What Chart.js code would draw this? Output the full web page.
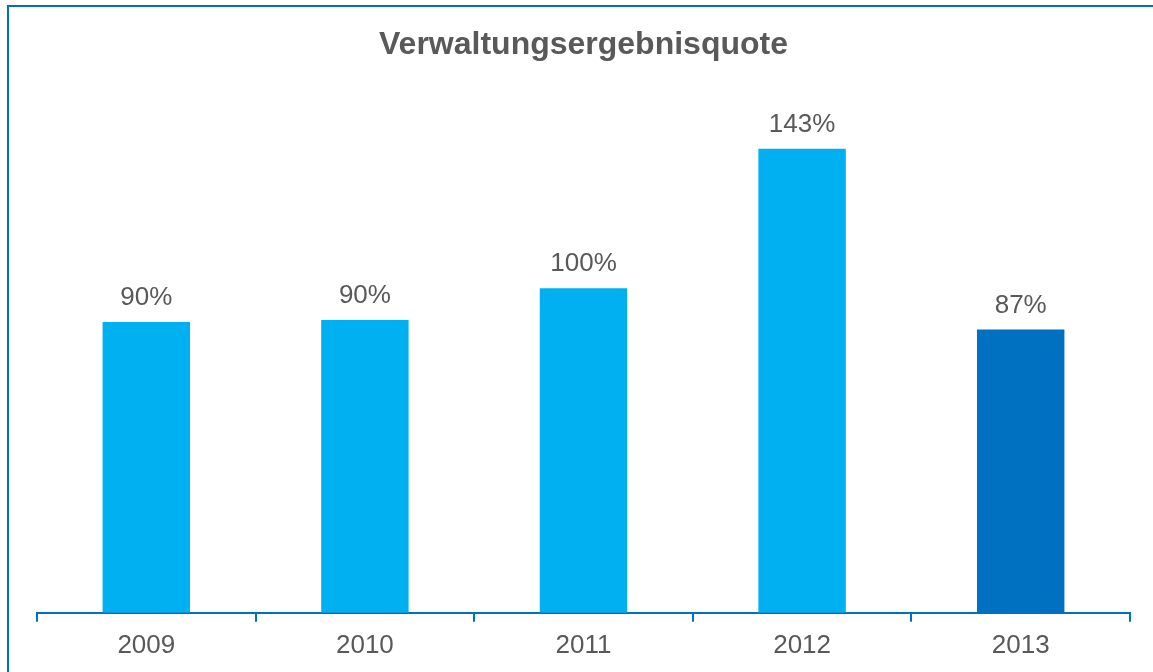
<!DOCTYPE html>
<html>
<head>
<meta charset="utf-8">
<script src="https://cdn.jsdelivr.net/npm/chart.js@4"></script>
<style>
  html, body { margin: 0; padding: 0; background: #fff; }
  #wrap { position: relative; width: 1153px; height: 672px; overflow: hidden; }
  #frame { position: absolute; left: 7px; top: 5px; width: 1200px; height: 700px;
           border-left: 2px solid #0070c0; border-top: 2px solid #0070c0; }
  canvas { position: absolute; left: 0; top: 0; }
</style>
</head>
<body>
<div id="wrap">
  <div id="frame"></div>
  <canvas id="myChart" width="1153" height="672"></canvas>
</div>
<script>
const years = ["2009", "2010", "2011", "2012", "2013"];
const quote = [89.6, 90.2, 100, 143, 87.3];
const labels = ["90%", "90%", "100%", "143%", "87%"];
const barColors = ["#00b0f0", "#00b0f0", "#00b0f0", "#00b0f0", "#0070c0"];

const myChart = document.getElementById("myChart");

// draws the percent labels above each bar
const valueLabels = {
    id: "valueLabels",
    afterDatasetsDraw(chart) {
        const ctx = chart.ctx;
        const meta = chart.getDatasetMeta(0);
        ctx.save();
        ctx.font = "26px 'Liberation Sans', Arial, sans-serif";
        ctx.fillStyle = "#595959";
        ctx.textAlign = "center";
        ctx.textBaseline = "alphabetic";
        meta.data.forEach((bar, i) => {
            ctx.fillText(labels[i], bar.x, bar.y - 17);
        });
        ctx.restore();
    }
};

new Chart(myChart, {
    type: "bar",
    data: {
        labels: years,
        datasets: [{
            data: quote,
            backgroundColor: barColors,
            categoryPercentage: 1,
            barPercentage: 0.4
        }]
    },
    options: {
        responsive: false,
        animation: false,
        layout: { padding: { left: 37, right: 23, top: 0, bottom: 3 } },
        plugins: {
            legend: { display: false },
            tooltip: { enabled: false },
            title: {
                display: true,
                text: "Verwaltungsergebnisquote",
                color: "#595959",
                font: { family: "'Liberation Sans', Arial, sans-serif", size: 32, weight: "bold" },
                padding: { top: 26, bottom: 0 }
            }
        },
        scales: {
            x: {
                offset: true,
                grid: {
                    offset: true,
                    drawOnChartArea: false,
                    drawTicks: true,
                    tickLength: 9,
                    color: "#0070c0",
                    lineWidth: 2
                },
                border: { display: true, color: "#0070c0", width: 2 },
                ticks: {
                    color: "#595959",
                    padding: 8,
                    font: { family: "'Liberation Sans', Arial, sans-serif", size: 26 }
                }
            },
            y: {
                display: false,
                min: 0,
                max: 169
            }
        }
    },
    plugins: [valueLabels]
});
</script>
</body>
</html>
